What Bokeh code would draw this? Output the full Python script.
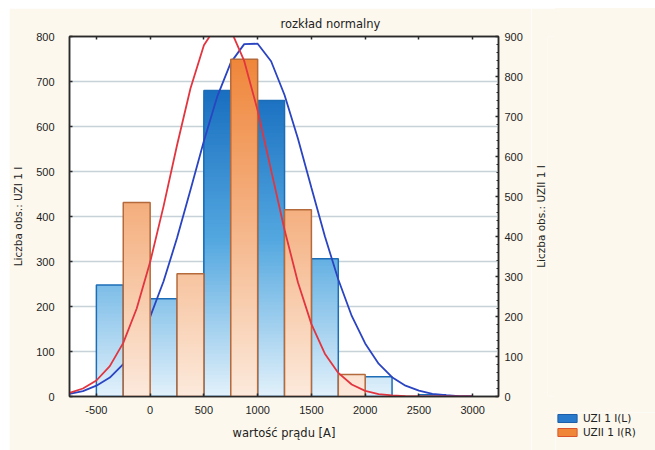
from bokeh.plotting import figure
from bokeh.models import Range1d, LinearAxis, Legend, LegendItem, FixedTicker, ColumnDataSource, Spacer
from bokeh.layouts import column, row
from bokeh.embed import file_html
from bokeh.resources import INLINE

# ---------------- data ----------------
x_ticks = [-500, 0, 500, 1000, 1500, 2000, 2500, 3000]
left_ticks = [0, 100, 200, 300, 400, 500, 600, 700, 800]
right_ticks = [0, 100, 200, 300, 400, 500, 600, 700, 800, 900]

bar_width = 250
bin_left_blue = [-500, 0, 500, 1000, 1500, 2000, 2500]
count_blue = [248, 217, 680, 658, 306, 44, 4]          # left axis, UZI 1 I(L)
bin_left_orange = [-250, 250, 750, 1250, 1750]
count_orange = [485, 307, 843, 467, 55]                # right axis, UZII 1 I(R)

curve_x = [-750, -625, -500, -375, -250, -125, 0, 125, 250, 375,
           500, 625, 750, 875, 1000, 1125, 1250, 1375, 1500, 1625,
           1750, 1875, 2000, 2125, 2250, 2375, 2500, 2625, 2750, 2875, 3000]
fit_blue = [6, 12, 24, 42, 72, 115, 177, 256, 352, 459,
            568, 667, 742, 783, 784, 745, 670, 573, 464, 356,
            260, 179, 118, 73, 43, 24, 13, 6, 3, 1, 1]
fit_orange = [9, 20, 40, 76, 134, 220, 336, 476, 628, 770,
              878, 930, 916, 839, 715, 566, 417, 285, 181, 107,
              59, 30, 14, 6, 3, 1, 0, 0, 0, 0, 0]

series_names = ["UZI 1 I(L)", "UZII 1 I(R)"]

# ---------------- styles ----------------
CREAM = "#fcf8ed"
FONT = "DejaVu Sans"
blue_stops = [(0, (228, 242, 251)), (350, (84, 168, 224)), (700, (22, 108, 190)), (900, (18, 95, 175))]
orange_stops = [(0, (252, 234, 221)), (500, (244, 172, 122)), (850, (239, 134, 58)), (950, (236, 125, 48))]


def grad_color(stops, v):
    for (v0, c0), (v1, c1) in zip(stops[:-1], stops[1:]):
        if v <= v1:
            t = max(0.0, (v - v0) / (v1 - v0))
            c = [int(round(a + (b - a) * t)) for a, b in zip(c0, c1)]
            return "#%02x%02x%02x" % tuple(c)
    return "#%02x%02x%02x" % stops[-1][1]


def slices(lefts, heights, stops, step=8):
    items = []
    for l, h in zip(lefts, heights):
        lev = h
        while lev > 0:
            items.append((lev, l, grad_color(stops, lev)))
            lev -= step
    items.sort(key=lambda a: -a[0])
    return ColumnDataSource(dict(left=[a[1] for a in items],
                                 right=[a[1] + bar_width for a in items],
                                 top=[a[0] for a in items],
                                 bottom=[0] * len(items),
                                 color=[a[2] for a in items]))


p = figure(width=522, height=442,
           x_range=Range1d(-750, 3240), y_range=Range1d(0, 800),
           output_backend="svg", toolbar_location=None,
           min_border_left=57, min_border_right=33, min_border_top=28, min_border_bottom=54,
           background_fill_color="white", border_fill_color=CREAM,
           outline_line_color="#2a2a2a", outline_line_width=1.5)
p.extra_y_ranges = {"right": Range1d(0, 900)}

p.title.text = "rozkład normalny"
p.title.align = "left"
p.title.offset = 211
p.title.text_font = FONT
p.title.text_font_size = "11.5px"
p.title.text_font_style = "normal"
p.title.text_color = "#222222"
p.title.standoff = 11

# grid
p.xgrid.visible = False
p.ygrid.ticker = FixedTicker(ticks=left_ticks)
p.ygrid.grid_line_color = "#c6d1d8"
p.ygrid.grid_line_width = 1.5


def style_axis(ax, ticks, standoff):
    ax.ticker = FixedTicker(ticks=ticks)
    ax.major_label_text_font = "Liberation Sans"
    ax.major_label_text_font_size = "11px"
    ax.major_label_text_color = "#1e1e1e"
    ax.axis_label_text_font = FONT
    ax.axis_label_text_font_size = "10.5px"
    ax.axis_label_text_font_style = "normal"
    ax.axis_label_text_color = "#222222"
    ax.axis_line_color = "#2a2a2a"
    ax.axis_line_width = 1.5
    ax.major_tick_in = 3
    ax.major_tick_out = 0
    ax.major_tick_line_color = "#2a2a2a"
    ax.major_tick_line_width = 1.5
    ax.minor_tick_line_color = None
    ax.major_label_standoff = standoff


style_axis(p.xaxis[0], x_ticks, 9)
p.xaxis[0].axis_label = "wartość prądu [A]"
p.xaxis[0].axis_label_text_font_size = "11.5px"
p.xaxis[0].axis_label_standoff = 9
p.xaxis[0].major_label_overrides = {-500: "-500"}

style_axis(p.yaxis[0], left_ticks, 15)
p.yaxis[0].axis_label = "Liczba obs.: UZI 1 I"
p.yaxis[0].axis_label_standoff = 9

ax_r = LinearAxis(y_range_name="right")
style_axis(ax_r, right_ticks, 6)
ax_r.ticker = FixedTicker(ticks=right_ticks, minor_ticks=list(range(0, 901, 20)))
ax_r.minor_tick_line_color = "#2a2a2a"
ax_r.minor_tick_in = 2
ax_r.minor_tick_out = 0
p.add_layout(ax_r, "right")

ax_t = LinearAxis()
style_axis(ax_t, x_ticks, 0)
ax_t.major_label_overrides = {t: "" for t in x_ticks}
p.add_layout(ax_t, "above")

# blue bars (left axis)
src_b = slices(bin_left_blue, count_blue, blue_stops)
p.quad(left="left", right="right", top="top", bottom="bottom", source=src_b,
       fill_color="color", line_color=None)
p.quad(left=bin_left_blue, right=[b + bar_width for b in bin_left_blue], top=count_blue, bottom=0,
       fill_color=None, line_color="#1d6db6", line_width=1.5)

# blue fit curve
p.line(curve_x, fit_blue, line_color="#2a44c2", line_width=1.8)

# orange bars (right axis)
src_o = slices(bin_left_orange, count_orange, orange_stops)
p.quad(left="left", right="right", top="top", bottom="bottom", source=src_o,
       fill_color="color", line_color=None, y_range_name="right")
p.quad(left=bin_left_orange, right=[b + bar_width for b in bin_left_orange], top=count_orange, bottom=0,
       fill_color=None, line_color="#b56a3c", line_width=1.5, y_range_name="right")

# orange fit curve
p.line(curve_x, fit_orange, line_color="#e2353f", line_width=1.8, y_range_name="right")

# ---------------- right axis title (reads bottom-to-top like the left one) ----------------
rl = figure(width=24, height=442, x_range=Range1d(0, 1), y_range=Range1d(0, 900),
            output_backend="svg", toolbar_location=None, x_axis_location=None,
            min_border_left=14, min_border_right=0, min_border_top=28, min_border_bottom=54,
            background_fill_color=CREAM, border_fill_color=CREAM, outline_line_color=None)
rl.grid.visible = False
ra = rl.yaxis[0]
ra.ticker = FixedTicker(ticks=[])
ra.axis_line_color = None
ra.major_tick_line_color = None
ra.minor_tick_line_color = None
ra.axis_label = "Liczba obs.: UZII 1 I"
ra.axis_label_text_font = FONT
ra.axis_label_text_font_size = "10.5px"
ra.axis_label_text_font_style = "normal"
ra.axis_label_text_color = "#222222"
ra.axis_label_standoff = 1

# ---------------- legend (separate small panel, bottom right) ----------------
lg = figure(width=100, height=38, x_range=Range1d(0, 1), y_range=Range1d(0, 1),
            output_backend="svg", toolbar_location=None,
            x_axis_location=None, y_axis_location=None,
            min_border_left=0, min_border_right=0, min_border_top=0, min_border_bottom=0,
            background_fill_color=CREAM, border_fill_color=CREAM, outline_line_color=None)
lg.grid.visible = False
sw_b = lg.quad(left=[0], right=[1], top=[1], bottom=[0], fill_color="#2a7acb", line_color="#1c5fa8")
sw_o = lg.quad(left=[0], right=[1], top=[1], bottom=[0], fill_color="#f08638", line_color="#d9542c")
sw_b.visible = False
sw_o.visible = False
legend = Legend(items=[LegendItem(label=series_names[0], renderers=[sw_b]),
                       LegendItem(label=series_names[1], renderers=[sw_o])],
                location="top_left", orientation="vertical",
                background_fill_alpha=0, border_line_color=None,
                label_text_font=FONT, label_text_font_size="10.5px", label_text_color="#222222",
                glyph_width=24, glyph_height=10, spacing=2, padding=0, margin=0,
                label_standoff=4, label_height=10)
lg.add_layout(legend, "center")

layout = column(Spacer(height=8, width=655),
                row(Spacer(width=9, height=442), p, rl,
                    column(Spacer(width=100, height=404, styles={"background-color": CREAM}), lg)))

open("out.html", "w").write(file_html(layout, INLINE))
